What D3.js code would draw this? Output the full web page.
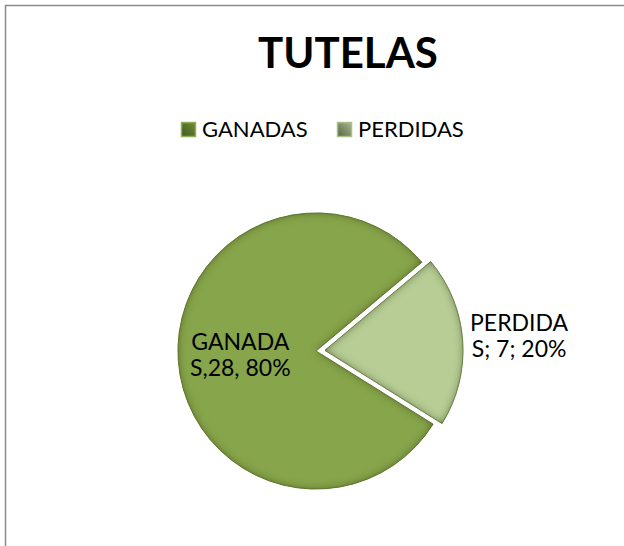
<!DOCTYPE html>
<html>
<head>
<meta charset="utf-8">
<script src="https://cdn.jsdelivr.net/npm/d3@7"></script>
<style>
  body { margin: 0; background: #fff; }
  svg { display: block; font-family: Lato, "Noto Sans", sans-serif; }
</style>
</head>
<body>
<div id="chart"></div>
<script>
// data
var categories = ["GANADAS", "PERDIDAS"];
var values = [28, 7];
var percents = ["80%", "20%"];
var labelLines = [["GANADA", "S,28, 80%"], ["PERDIDA", "S; 7; 20%"]];
var title = "TUTELAS";

var width = 624, height = 546;
var cx = 316, cy = 351, radius = 138, explode = [0, 9];
var fills = ["#87a54b", "#b7cd95"];
var edges = ["#6f8a37", "#7f9a52"];

var svg = d3.select("#chart").append("svg")
    .attr("width", width)
    .attr("height", height);

var defs = svg.append("defs");

// inner bevel shadow for the slices
var f = defs.append("filter").attr("id", "inset")
    .attr("x", "-20%").attr("y", "-20%").attr("width", "140%").attr("height", "140%");
f.append("feFlood").attr("flood-color", "#3e5018").attr("flood-opacity", 0.9).attr("result", "c");
f.append("feComposite").attr("in", "c").attr("in2", "SourceAlpha").attr("operator", "out").attr("result", "outside");
f.append("feGaussianBlur").attr("in", "outside").attr("stdDeviation", 4.5).attr("result", "blur");
f.append("feComposite").attr("in", "blur").attr("in2", "SourceAlpha").attr("operator", "in").attr("result", "shadow");
var fm = f.append("feMerge");
fm.append("feMergeNode").attr("in", "SourceGraphic");
fm.append("feMergeNode").attr("in", "shadow");

// legend marker gradients
var lg1 = defs.append("linearGradient").attr("id", "lg0")
    .attr("x1", 0).attr("y1", 1).attr("x2", 1).attr("y2", 0);
lg1.append("stop").attr("offset", 0).attr("stop-color", "#3f5a1c");
lg1.append("stop").attr("offset", 1).attr("stop-color", "#6f8c3a");
var lg2 = defs.append("linearGradient").attr("id", "lg1")
    .attr("x1", 0).attr("y1", 1).attr("x2", 1).attr("y2", 0);
lg2.append("stop").attr("offset", 0).attr("stop-color", "#56663c");
lg2.append("stop").attr("offset", 1).attr("stop-color", "#a9b795");

// chart border
svg.append("path")
    .attr("d", "M5.5," + height + "V5.5H" + width)
    .attr("fill", "none")
    .attr("stroke", "#8c8c8c")
    .attr("stroke-width", 1.5);

svg.append("text")
    .attr("x", 348)
    .attr("y", 68)
    .attr("text-anchor", "middle")
    .attr("font-size", 42)
    .attr("font-weight", "bold")
    .attr("fill", "#000")
    .text(title);

// legend
var legendX = [181, 337];
var legend = svg.append("g").selectAll("g")
    .data(categories)
    .enter().append("g")
    .attr("transform", function(d, i) { return "translate(" + legendX[i] + ",122)"; });
legend.append("rect")
    .attr("x", 0.5).attr("y", 0.5)
    .attr("width", 14).attr("height", 14)
    .attr("fill", function(d, i) { return "url(#lg" + i + ")"; })
    .attr("stroke", function(d, i) { return i == 0 ? "#8fae55" : "#a9bf88"; })
    .attr("stroke-width", 1.5);
legend.append("text")
    .attr("x", 21)
    .attr("y", 15)
    .attr("font-size", 22)
    .attr("fill", "#000")
    .text(function(d) { return d; });

// pie
var startA = 122 * Math.PI / 180;
var pie = d3.pie().sort(null)
    .startAngle(startA)
    .endAngle(startA + 2 * Math.PI)
    .value(function(d) { return d; });
var arc = d3.arc().innerRadius(0).outerRadius(radius);
var arcs = pie(values);

function offset(d, i) {
    var m = (d.startAngle + d.endAngle) / 2;
    return [Math.sin(m) * explode[i], -Math.cos(m) * explode[i]];
}

var slices = svg.append("g")
    .attr("transform", "translate(" + cx + "," + cy + ")");

slices.selectAll("path")
    .data(arcs)
    .enter().append("path")
    .attr("transform", function(d, i) { var o = offset(d, i); return "translate(" + o[0] + "," + o[1] + ")"; })
    .attr("d", arc)
    .attr("fill", function(d, i) { return fills[i]; })
    .attr("stroke", function(d, i) { return edges[i]; })
    .attr("stroke-width", 1)
    .attr("filter", "url(#inset)");

// data labels
var labelArcs = [
    d3.arc().innerRadius(radius * 0.55).outerRadius(radius * 0.55),
    d3.arc().innerRadius(radius * 1.41).outerRadius(radius * 1.41)
];
var labels = slices.selectAll("text.lbl")
    .data(arcs)
    .enter().append("text")
    .attr("class", "lbl")
    .attr("text-anchor", "middle")
    .attr("font-size", 23)
    .attr("fill", "#000")
    .attr("transform", function(d, i) {
        var c = labelArcs[i].centroid(d), o = offset(d, i);
        return "translate(" + (c[0] + o[0]) + "," + (c[1] + o[1]) + ")";
    });
labels.selectAll("tspan")
    .data(function(d, i) { return labelLines[i]; })
    .enter().append("tspan")
    .attr("x", 0)
    .attr("y", function(d, j) { return j == 0 ? -6 : 20; })
    .text(function(d) { return d; });
</script>
</body>
</html>
